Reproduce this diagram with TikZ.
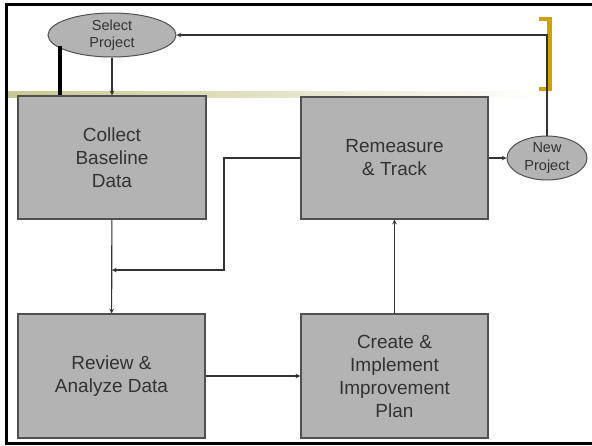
\documentclass[tikz,border=0pt]{standalone}
\usepackage{fontspec}
\setmainfont{Liberation Sans}
\usetikzlibrary{shapes.geometric}
\definecolor{boxgray}{RGB}{179,179,179}
\definecolor{edgegray}{RGB}{80,80,80}
\definecolor{textgray}{RGB}{51,51,51}
\definecolor{olivebar}{RGB}{200,200,145}
\definecolor{goldbar}{RGB}{212,160,10}
\begin{document}
\begin{tikzpicture}[x=1pt, y=-1pt,
		stepbox/.style={draw=edgegray, line width=1.2pt, fill=boxgray, text=textgray, align=center, inner sep=0pt, minimum width=188pt, minimum height=123pt, font=\fontsize{19}{23}\selectfont},
		proj/.style={draw=edgegray, line width=1pt, fill=boxgray, ellipse, text=textgray, align=center, inner sep=0pt, font=\fontsize{14.5}{17.5}\selectfont},
		link/.style={draw=textgray, line width=1.1pt}]
		\useasboundingbox (0,0) rectangle (592,445);
		\draw[line width=3pt] (592,4.5) -- (6.5,4.5) -- (6.5,443.5) -- (592,443.5);
		\shade[left color=olivebar, right color=white] (8,91) rectangle (545,97);
		\draw[goldbar, line width=4.5pt] (539,19) -- (549.5,19) -- (549.5,89) -- (539,89);
		\coordinate (BarTop) at (60,46);
		\draw (112,35) node[proj, minimum width=128pt, minimum height=44pt] (S) {Select\\Project};
		\draw (112,157.5) node[stepbox] (C) {Collect\\Baseline\\Data};
		\draw (394.5,158) node[stepbox, minimum width=187pt, minimum height=122pt] (R) {Remeasure\\\& Track};
		\draw (111.5,376) node[stepbox, minimum width=187pt, minimum height=124pt] (V) {Review \&\\Analyze Data};
		\draw (394.5,376) node[stepbox, minimum width=187pt, minimum height=124pt] (P) {Create \&\\Implement\\Improvement\\Plan};
		\draw (547,158) node[proj, minimum width=80pt, minimum height=44pt] (N) {New\\Project};
		\draw[line width=4pt] (BarTop) -- (BarTop |- C.north);
		\coordinate (Top) at (547,35);
		\coordinate (Bend) at (224,270);
		\coordinate (Join) at (112,270);
		\draw[link, ->, >=stealth] (S) -- (C);
		\draw[link, ->, >=stealth] (C) -- (V);
		\draw[link, ->, >=stealth] (V) -- (P);
		\draw[link, ->, >=stealth] (P) -- (R);
		\draw[link, ->, >=stealth] (R) -- (N);
		\draw[link, ->, >=stealth] (R.west) -| (Bend) -- (Join);
		\draw[link, ->, >=stealth] (N.north) -- (Top) -- (S.east);
	\end{tikzpicture}
\end{document}
